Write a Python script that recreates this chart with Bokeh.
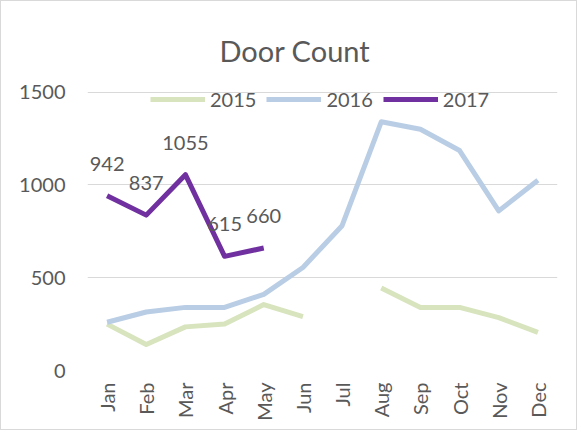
import math
from bokeh.plotting import figure
from bokeh.models import FixedTicker, Legend, LegendItem, ColumnDataSource
from bokeh.core.properties import value
from bokeh.embed import file_html
from bokeh.resources import INLINE

months = ["Jan", "Feb", "Mar", "Apr", "May", "Jun", "Jul", "Aug", "Sep", "Oct", "Nov", "Dec"]
y2015 = [250, 140, 235, 250, 355, 290, float("nan"), 445, 340, 340, 285, 205]
y2016 = [260, 315, 340, 340, 410, 555, 780, 1340, 1300, 1185, 860, 1025]
y2017 = [942, 837, 1055, 615, 660]
y_ticks = [0, 500, 1000, 1500]

FONT = "Lato"
TXT = "#595959"

p = figure(x_range=months, y_range=(0, 1530), width=577, height=430,
           output_backend="svg", toolbar_location=None,
           min_border_left=86, min_border_right=21, min_border_top=85, min_border_bottom=61,
           title="Door Count")
p.styles = {"border": "1px solid #d9d9d9"}
p.outline_line_color = None
p.background_fill_color = "white"
p.border_fill_color = "white"

p.title.align = "left"
p.title.offset = 132
p.title.text_font = FONT
p.title.text_font_size = "29px"
p.title.text_font_style = "normal"
p.title.text_color = TXT
p.title.standoff = 38

p.xgrid.grid_line_color = None
p.ygrid.grid_line_color = "#d9d9d9"
p.ygrid.grid_line_width = 1
p.yaxis.ticker = FixedTicker(ticks=y_ticks)

for ax in (p.xaxis[0], p.yaxis[0]):
    ax.axis_line_color = None
    ax.major_tick_line_color = None
    ax.minor_tick_line_color = None
    ax.major_tick_out = 0
    ax.major_tick_in = 0
    ax.minor_tick_out = 0
    ax.major_label_text_font = FONT
    ax.major_label_text_font_size = "20px"
    ax.major_label_text_color = TXT
p.yaxis.major_label_standoff = 22
p.xaxis.major_label_standoff = 12
p.xaxis.major_label_orientation = math.pi / 2

r15 = p.line(months, y2015, line_color="#d7e4bd", line_width=5, line_join="round")
r16 = p.line(months, y2016, line_color="#b9cde5", line_width=5, line_join="round")
r17 = p.line(months[:5], y2017, line_color="#7030a0", line_width=5, line_join="round")

src = ColumnDataSource(dict(x=months[:5], y=y2017, t=[str(v) for v in y2017]))
p.text(x="x", y="y", text="t", source=src, text_align="center", text_baseline="middle",
       y_offset=-32, text_font=value(FONT), text_font_size="20px", text_color=TXT)

legend = Legend(items=[LegendItem(label="2015", renderers=[r15]),
                       LegendItem(label="2016", renderers=[r16]),
                       LegendItem(label="2017", renderers=[r17])],
                orientation="horizontal", location=(63, 259))
legend.background_fill_alpha = 0
legend.border_line_color = None
legend.padding = 0
legend.margin = 0
legend.spacing = 10
legend.glyph_width = 55
legend.glyph_height = 20
legend.label_standoff = 5
legend.label_text_font = FONT
legend.label_text_font_size = "20px"
legend.label_text_color = TXT
p.add_layout(legend, "center")

open("out.html", "w").write(file_html(p, INLINE))
